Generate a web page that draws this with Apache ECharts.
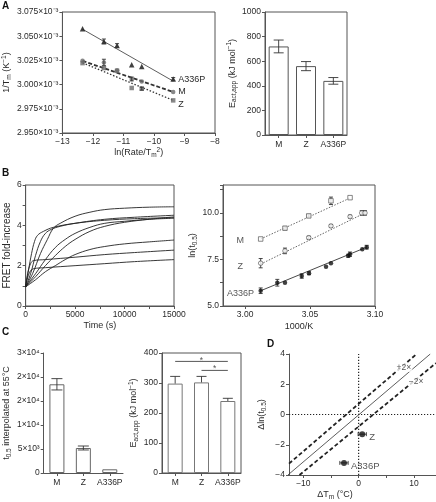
<!DOCTYPE html>
<html><head><meta charset="utf-8">
<script src="https://cdn.jsdelivr.net/npm/echarts@6/dist/echarts.min.js"></script>
<style>html,body{margin:0;padding:0;background:#fff}#c{width:436px;height:502px}</style>
</head><body><div id="c"></div>
<script>
// ===== Panel A (left): 1/Tm vs ln(Rate/Tm^2), y in units of 1e-3 K^-1 =====
const aLnRate   = [-12.34, -11.64, -11.21, -10.73, -10.40, -9.37];
const aA336P    = [3.0576, 3.0446, 3.0405, 3.0206, 3.0188, 3.0058];
const aA336PErr = [0, 0.0025, 0.0018, 0, 0, 0.0015];
const aM        = [3.0247, 3.0229, 3.0148, 3.0058, 3.0033, 2.9924];
const aMErr     = [0, 0.0033, 0, 0.002, 0, 0];
const aZ        = [3.0222, 3.0171, 3.0142, 2.9965, 2.9958, 2.9837];
const aZErr     = [0, 0, 0, 0, 0.0015, 0];
const aFitX     = [-12.34, -9.37];
const aFitA336P = [3.0572, 3.0036];
const aFitM     = [3.0245, 2.9924];
const aFitZ     = [3.0225, 2.9837];
// ===== Panel A (right) =====
const variants  = ['M', 'Z', 'A336P'];
const aEact     = [720, 560, 440];
const aEactErr  = [52, 37, 27];
// ===== Panel B (left): FRET fold-increase traces [time s, fold] =====
const bTrace1 = [[0,0.95],[300,1.8],[600,2.6],[900,3.2],[1200,3.5],[1800,3.7],[2800,3.9],[5000,4.1],[8000,4.25],[11000,4.33],[15000,4.38]];
const bTrace2 = [[0,0.95],[500,1.6],[1000,2.5],[1500,3.2],[2000,3.6],[2600,3.8],[3500,3.95],[5000,4.1],[8000,4.3],[11000,4.4],[15000,4.5]];
const bTrace3 = [[0,0.95],[700,1.6],[1500,2.6],[2200,3.3],[2800,3.85],[3500,4.1],[5000,4.45],[6500,4.65],[8000,4.78],[10000,4.85],[12500,4.9],[15000,4.92]];
const bTrace4 = [[0,0.95],[1000,1.6],[2000,2.3],[3000,2.9],[4000,3.3],[5000,3.6],[6500,3.9],[8000,4.1],[10000,4.2],[12500,4.3],[15000,4.35]];
const bTrace5 = [[0,0.95],[1000,1.45],[2000,2.0],[3000,2.5],[4000,2.95],[5000,3.3],[6500,3.7],[8000,3.95],[10000,4.15],[12500,4.3],[15000,4.42]];
const bTrace6 = [[0,0.95],[1000,1.3],[2000,1.7],[3000,2.0],[4000,2.3],[5000,2.55],[6500,2.8],[8000,2.95],[10000,3.08],[12500,3.18],[15000,3.27]];
const bTrace7 = [[0,0.95],[200,1.6],[500,2.1],[800,2.25],[2000,2.3],[5000,2.42],[8000,2.55],[11000,2.65],[15000,2.77]];
const bTrace8 = [[0,0.95],[200,1.4],[500,1.75],[800,1.85],[2000,1.9],[5000,2.0],[8000,2.1],[11000,2.2],[15000,2.3]];
// ===== Panel B (right): ln(t0.5) vs 1000/K =====
const bMx     = [3.0120, 3.0307, 3.0490, 3.0661, 3.0808];
const bMy     = [8.60, 9.18, 9.84, 10.65, 10.82];
const bMErr   = [0, 0.08, 0.06, 0.2, 0];
const bZx     = [3.0120, 3.0307, 3.0490, 3.0661, 3.0808, 3.0898, 3.0923];
const bZy     = [7.30, 7.96, 8.67, 9.30, 9.80, 10.0, 10.0];
const bZErr   = [0.25, 0.15, 0.08, 0.08, 0.08, 0.12, 0.12];
const bAx     = [3.0120, 3.0248, 3.0307, 3.0436, 3.0492, 3.0623, 3.0661, 3.0794, 3.0807, 3.0902, 3.0936];
const bAy     = [5.82, 6.25, 6.25, 6.61, 6.76, 7.11, 7.30, 7.70, 7.78, 8.05, 8.16];
const bAErr   = [0.15, 0.18, 0, 0.12, 0.08, 0, 0, 0.08, 0.12, 0, 0.1];
const bFitM   = [[3.0120, 8.60], [3.0808, 10.80]];
const bFitZ   = [[3.0120, 7.25], [3.0923, 10.0]];
const bFitA   = [[3.0120, 5.82], [3.0936, 8.16]];
const bLabels = [['M', 2.9963, 8.52], ['Z', 2.9963, 7.11], ['A336P', 2.9965, 5.65]];
// ===== Panel C =====
const cT05        = [18480, 5210, 770];
const cT05Err     = [1180, 415, 0];
const cTickLabels = ['0', '5×10³', '1×10⁴', '2×10⁴', '2×10⁴', '3×10⁴'];
const cEact       = [298, 302, 240];
const cEactErr    = [24, 20, 9];
const cSigLines   = [[[0, 372], [2, 372]], [[1, 342], [2, 342]]];
const cSigStars   = [[1, 376], [1.5, 347]];
// ===== Panel D =====
const dPoints   = [['Z', 0.65, -1.3, 0.75], ['A336P', -2.65, -3.2, 0.75]];
const dSolid    = [[-12.8, -4.0], [12.96, 4.0]];
const dPlus2    = [[-12.6, -3.25], [10.5, 4.0]];
const dMinus2   = [[-10.7, -4.0], [14.0, 3.4]];
const dZeroH    = [[-12.6, 0], [14.0, 0]];
const dZeroV    = [[0, -4], [0, 4]];
const dLineTags = [['+2×', 8.2, 3.1], ['−2×', 10.4, 2.2]];

const FONT = '"Liberation Sans", Arial, Helvetica, sans-serif';
const TXT = '#2a2a2a', AX = '#555';
const RICH = {
  sub: {fontSize: 6.5, verticalAlign: 'bottom', lineHeight: 7, fontFamily: FONT, color: TXT},
  sup: {fontSize: 6.5, verticalAlign: 'top', lineHeight: 7, fontFamily: FONT, color: TXT}
};
function merge(a, b) {
  const o = Array.isArray(a) ? a.slice() : Object.assign({}, a);
  for (const k in b) {
    if (b[k] && typeof b[k] === 'object' && !Array.isArray(b[k]) && a[k] && typeof a[k] === 'object') o[k] = merge(a[k], b[k]);
    else o[k] = b[k];
  }
  return o;
}
const baseAxis = {
  axisLine: {show: true, onZero: false, lineStyle: {color: AX, width: 1}},
  axisTick: {show: true, length: 3, lineStyle: {color: AX, width: 1}},
  axisLabel: {fontSize: 8.5, color: TXT, margin: 4, fontFamily: FONT},
  splitLine: {show: false},
  nameLocation: 'middle',
  nameTextStyle: {fontSize: 9, color: TXT, fontFamily: FONT, lineHeight: 12, rich: RICH}
};
const vAx = o => merge(merge(baseAxis, {type: 'value'}), o);
const cAx = o => merge(merge(baseAxis, {type: 'category', data: variants, axisTick: {alignWithLabel: true},
  axisLabel: {interval: 0, margin: 5}}), o);

function errSeries(xi, yi, data, opts) {
  opts = opts || {};
  const cap = opts.cap || 6, horiz = !!opts.horiz, lowCap = opts.lowCap !== false;
  return {
    type: 'custom', xAxisIndex: xi, yAxisIndex: yi, data: data, z: 5, silent: true,
    renderItem(params, api) {
      const c = api.value(0), lo = api.value(1), hi = api.value(2);
      const p1 = horiz ? api.coord([lo, c]) : api.coord([c, lo]);
      const p2 = horiz ? api.coord([hi, c]) : api.coord([c, hi]);
      const st = {stroke: '#333', lineWidth: 0.9};
      const h = cap / 2;
      const ch = [{type: 'line', shape: {x1: p1[0], y1: p1[1], x2: p2[0], y2: p2[1]}, style: st}];
      const capAt = p => horiz
        ? {type: 'line', shape: {x1: p[0], y1: p[1] - h, x2: p[0], y2: p[1] + h}, style: st}
        : {type: 'line', shape: {x1: p[0] - h, y1: p[1], x2: p[0] + h, y2: p[1]}, style: st};
      ch.push(capAt(p2));
      if (lowCap) ch.push(capAt(p1));
      return {type: 'group', children: ch};
    }
  };
}
const errData = (xs, ys, es) => xs.map((x, i) => [x, ys[i] - es[i], ys[i] + es[i]]).filter((d, i) => es[i] > 0);
const zip = (xs, ys) => xs.map((x, i) => [x, ys[i]]);
const lbl = (o) => merge({show: true, fontSize: 9, color: TXT, fontFamily: FONT}, o);
const minus = v => (v < 0 ? '−' : '') + Math.abs(v);

const grids = [
  {left: 62, top: 12, width: 153, height: 121, show: true, borderColor: AX, borderWidth: 1},   // A left
  {left: 265, top: 12, width: 82, height: 123, show: true, borderColor: AX, borderWidth: 1},   // A right
  {left: 21, top: 185, width: 153, height: 121, show: true, borderColor: AX, borderWidth: 1},  // B left
  {left: 223, top: 185, width: 152, height: 121, show: true, borderColor: AX, borderWidth: 1}, // B right
  {left: 39, top: 353, width: 84, height: 120},                                               // C left
  {left: 162, top: 353, width: 79, height: 120, show: true, borderColor: AX, borderWidth: 1},  // C right
  {left: 289, top: 354, width: 147, height: 121}                                              // D
];

const xAxes = [
  vAx({gridIndex: 0, min: -13, max: -8, interval: 1, name: 'ln(Rate/T{sub|m}{sup|2})', nameGap: 13,
       axisLabel: {formatter: minus}}),
  cAx({gridIndex: 1}),
  vAx({gridIndex: 2, min: 0, max: 15000, interval: 2500, name: 'Time (s)', nameGap: 14,
       axisLabel: {formatter: v => v % 5000 === 0 ? String(v) : ''}}),
  vAx({gridIndex: 3, min: 2.983, max: 3.10, name: '1000/K', nameGap: 15,
       axisTick: {customValues: [3.00, 3.05, 3.10]},
       axisLabel: {customValues: [3.00, 3.05, 3.10], formatter: v => v.toFixed(2)}}),
  cAx({gridIndex: 4}),
  cAx({gridIndex: 5}),
  vAx({gridIndex: 5, min: -0.5, max: 2.5, show: false}),
  vAx({gridIndex: 6, min: -12.6, max: 14, name: 'ΔT{sub|m} (°C)', nameGap: 14,
       nameTextStyle: {padding: [0, 55, 0, 0]},
       axisTick: {customValues: [-10, -5, 0, 5, 10]},
       axisLabel: {customValues: [-10, 0, 10], formatter: minus}})
];
const yAxes = [
  vAx({gridIndex: 0, min: 2.95, max: 3.075, interval: 0.025, name: '1/T{sub|m} (K{sup|−1})', nameGap: 48,
       axisLabel: {formatter: v => v.toFixed(3) + '×10⁻³'}}),
  vAx({gridIndex: 1, min: 0, max: 1000, interval: 200, name: 'E{sub|act,app} (kJ mol{sup|−1})', nameGap: 24,
       axisLabel: {formatter: v => String(v)}}),
  vAx({gridIndex: 2, min: 0, max: 6, interval: 1, name: 'FRET fold-increase', nameGap: 9,
       nameTextStyle: {fontSize: 10},
       axisLabel: {formatter: v => v % 2 === 0 ? String(v) : ''}}),
  vAx({gridIndex: 3, min: 5, max: 11.5, interval: 1.25, name: 'ln(t{sub|0.5})', nameGap: 18,
       axisLabel: {formatter: v => (v === 5 || v === 7.5 || v === 10) ? v.toFixed(1) : ''}}),
  vAx({gridIndex: 4, min: 0, max: 25000, interval: 5000, name: 't{sub|0.5} interpolated at 55°C', nameGap: 29,
       axisLabel: {formatter: v => cTickLabels[Math.round(v / 5000)]}}),
  vAx({gridIndex: 5, min: 0, max: 400, interval: 100, name: 'E{sub|act,app} (kJ mol{sup|−1})', nameGap: 20}),
  vAx({gridIndex: 6, min: -4, max: 4, interval: 2, name: 'Δln(t{sub|0.5})', nameGap: 21,
       axisLabel: {formatter: minus}})
];

const series = [];
// ---- A left
series.push({type: 'line', xAxisIndex: 0, yAxisIndex: 0, data: zip(aFitX, aFitA336P), symbol: 'none',
  lineStyle: {color: '#333', width: 0.8}, endLabel: lbl({formatter: 'A336P', distance: 5, offset: [0, -2]})});
series.push({type: 'line', xAxisIndex: 0, yAxisIndex: 0, data: zip(aFitX, aFitM), symbol: 'none',
  lineStyle: {color: '#333', width: 1.8, type: [4, 2]}, endLabel: lbl({formatter: 'M', distance: 5})});
series.push({type: 'line', xAxisIndex: 0, yAxisIndex: 0, data: zip(aFitX, aFitZ), symbol: 'none',
  lineStyle: {color: '#333', width: 1.3, type: [1.5, 1.8]}, endLabel: lbl({formatter: 'Z', distance: 5, offset: [0, 4]})});
series.push({type: 'scatter', xAxisIndex: 0, yAxisIndex: 0, data: zip(aLnRate, aM), symbol: 'circle', symbolSize: 4.5, itemStyle: {color: '#6a6a6a'}, z: 4});
series.push({type: 'scatter', xAxisIndex: 0, yAxisIndex: 0, data: zip(aLnRate, aZ), symbol: 'rect', symbolSize: 4.5, itemStyle: {color: '#6a6a6a'}, z: 4});
series.push({type: 'scatter', xAxisIndex: 0, yAxisIndex: 0, data: zip(aLnRate, aA336P), symbol: 'triangle', symbolSize: 5.5, itemStyle: {color: '#111'}, z: 4});
series.push(errSeries(0, 0, errData(aLnRate, aA336P, aA336PErr), {cap: 4}));
series.push(errSeries(0, 0, errData(aLnRate, aM, aMErr), {cap: 4}));
series.push(errSeries(0, 0, errData(aLnRate, aZ, aZErr), {cap: 4}));
// ---- A right
series.push({type: 'bar', xAxisIndex: 1, yAxisIndex: 1, data: aEact, barWidth: 20, itemStyle: {color: '#fff', borderColor: '#555', borderWidth: 1}});
series.push(errSeries(1, 1, errData([0, 1, 2], aEact, aEactErr), {cap: 10}));
// ---- B left
[bTrace1, bTrace2, bTrace3, bTrace4, bTrace5, bTrace6, bTrace7, bTrace8].forEach(tr => {
  series.push({type: 'line', xAxisIndex: 2, yAxisIndex: 2, data: tr, symbol: 'none', smooth: 0.4,
    lineStyle: {color: '#222', width: 0.9}});
});
// ---- B right
series.push({type: 'line', xAxisIndex: 3, yAxisIndex: 3, data: bFitM, symbol: 'none', lineStyle: {color: '#666', width: 1, type: [1.5, 1.5]}});
series.push({type: 'line', xAxisIndex: 3, yAxisIndex: 3, data: bFitZ, symbol: 'none', lineStyle: {color: '#666', width: 1, type: [1.5, 1.5]}});
series.push({type: 'line', xAxisIndex: 3, yAxisIndex: 3, data: bFitA, symbol: 'none', lineStyle: {color: '#333', width: 0.9}});
series.push(errSeries(3, 3, errData(bMx, bMy, bMErr), {cap: 4}));
series.push(errSeries(3, 3, errData(bZx, bZy, bZErr), {cap: 4}));
series.push(errSeries(3, 3, errData(bAx, bAy, bAErr), {cap: 4}));
series.push({type: 'scatter', xAxisIndex: 3, yAxisIndex: 3, data: zip(bMx, bMy), symbol: 'rect', symbolSize: 4.5, z: 6,
  itemStyle: {color: '#fff', borderColor: '#444', borderWidth: 0.8}});
series.push({type: 'scatter', xAxisIndex: 3, yAxisIndex: 3, data: zip(bZx, bZy), symbol: 'circle', symbolSize: 4.5, z: 6,
  itemStyle: {color: '#fff', borderColor: '#444', borderWidth: 0.8}});
series.push({type: 'scatter', xAxisIndex: 3, yAxisIndex: 3, data: zip(bAx, bAy), symbol: 'circle', symbolSize: 4.5, z: 6,
  itemStyle: {color: '#111'}});
series.push({type: 'scatter', xAxisIndex: 3, yAxisIndex: 3, symbolSize: 0, silent: true,
  data: bLabels.map(l => ({name: l[0], value: [l[1], l[2]]})),
  label: lbl({position: 'inside', formatter: '{b}'})});
// ---- C left
series.push({type: 'bar', xAxisIndex: 4, yAxisIndex: 4, data: cT05, barWidth: 15, itemStyle: {color: '#fff', borderColor: '#666', borderWidth: 1}});
series.push(errSeries(4, 4, errData([0, 1, 2], cT05, cT05Err), {cap: 11}));
// ---- C right
series.push({type: 'bar', xAxisIndex: 5, yAxisIndex: 5, data: cEact, barWidth: 15, itemStyle: {color: '#fff', borderColor: '#777', borderWidth: 1}});
series.push(errSeries(5, 5, [0, 1, 2].map(i => [i, cEact[i], cEact[i] + cEactErr[i]]), {cap: 10, lowCap: false}));
cSigLines.forEach(ln => series.push({type: 'line', xAxisIndex: 6, yAxisIndex: 5, data: ln, symbol: 'none',
  lineStyle: {color: '#555', width: 1}}));
series.push({type: 'scatter', xAxisIndex: 6, yAxisIndex: 5, symbolSize: 0, silent: true, data: cSigStars,
  label: lbl({position: 'inside', formatter: '*', fontSize: 8.5})});
// ---- D
series.push({type: 'line', xAxisIndex: 7, yAxisIndex: 6, data: dZeroH, symbol: 'none', lineStyle: {color: '#222', width: 1.2, type: [1.2, 1.8]}});
series.push({type: 'line', xAxisIndex: 7, yAxisIndex: 6, data: dZeroV, symbol: 'none', lineStyle: {color: '#222', width: 1.2, type: [1.2, 1.8]}});
series.push({type: 'line', xAxisIndex: 7, yAxisIndex: 6, data: dSolid, symbol: 'none', lineStyle: {color: '#333', width: 0.8}});
series.push({type: 'line', xAxisIndex: 7, yAxisIndex: 6, data: dPlus2, symbol: 'none', lineStyle: {color: '#222', width: 1.8, type: [4, 2.5]}});
series.push({type: 'line', xAxisIndex: 7, yAxisIndex: 6, data: dMinus2, symbol: 'none', lineStyle: {color: '#222', width: 1.8, type: [4, 2.5]}});
series.push(errSeries(7, 6, dPoints.map(p => [p[2], p[1] - p[3], p[1] + p[3]]), {cap: 4, horiz: true}));
series.push({type: 'scatter', xAxisIndex: 7, yAxisIndex: 6, symbolSize: 6, itemStyle: {color: '#111'}, z: 6,
  data: dPoints.map(p => ({name: p[0], value: [p[1], p[2]]})),
  label: lbl({position: 'right', formatter: '{b}', distance: 4, fontSize: 9.5, offset: [0, 3]})});
series.push({type: 'scatter', xAxisIndex: 7, yAxisIndex: 6, symbolSize: 0, silent: true, z: 7,
  data: dLineTags.map(t => ({name: t[0], value: [t[1], t[2]]})),
  label: lbl({position: 'inside', formatter: '{b}', fontSize: 8.5, backgroundColor: '#fff', padding: [0, 1]})});

const letter = (t, x, y) => ({type: 'text', left: x, top: y, style: {text: t, fontSize: 10, fontWeight: 'bold', fill: '#111', fontFamily: FONT}});

const chart = echarts.init(document.getElementById('c'));
chart.setOption({
  animation: false,
  backgroundColor: '#fff',
  textStyle: {fontFamily: FONT},
  grid: grids,
  xAxis: xAxes,
  yAxis: yAxes,
  series: series,
  graphic: [letter('A', 2, 1), letter('B', 2, 168), letter('C', 2, 327), letter('D', 267, 339)]
});
</script>
</body></html>
